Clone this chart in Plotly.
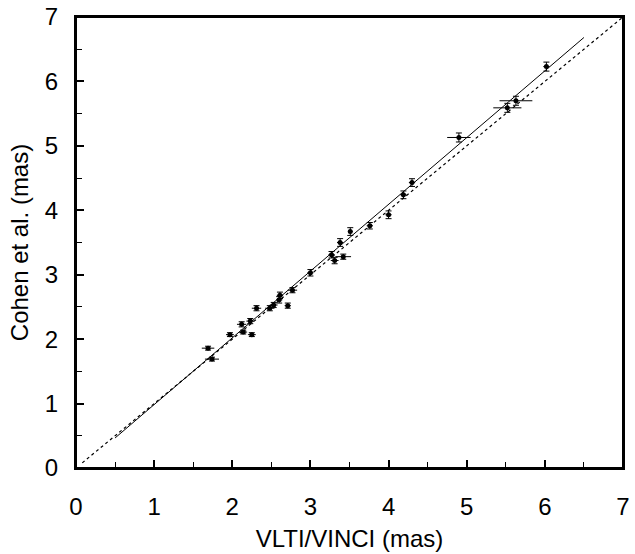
import plotly.graph_objects as go

vinci = [1.69, 1.74, 1.97, 2.14, 2.25, 2.12, 2.23, 2.31, 2.48, 2.53, 2.60, 2.61, 2.71, 2.77,
         3.00, 3.27, 3.31, 3.42, 3.38, 3.51, 3.76, 4.00, 4.19, 4.30, 4.90, 5.52, 5.63, 6.02]
cohen = [1.86, 1.69, 2.07, 2.11, 2.07, 2.23, 2.28, 2.48, 2.48, 2.53, 2.61, 2.68, 2.52, 2.76,
         3.03, 3.31, 3.22, 3.28, 3.50, 3.67, 3.76, 3.93, 4.24, 4.43, 5.13, 5.59, 5.70, 6.23]
vinci_err = [0.08, 0.09, 0.05, 0.05, 0.05, 0.06, 0.05, 0.06, 0.06, 0.05, 0.04, 0.04, 0.04, 0.06,
             0.04, 0.04, 0.05, 0.10, 0.04, 0.03, 0.04, 0.04, 0.04, 0.04, 0.15, 0.18, 0.21, 0.04]
cohen_err = [0.03, 0.03, 0.03, 0.03, 0.03, 0.04, 0.04, 0.04, 0.04, 0.04, 0.05, 0.05, 0.04, 0.04,
             0.05, 0.05, 0.05, 0.04, 0.06, 0.06, 0.05, 0.06, 0.06, 0.06, 0.07, 0.07, 0.07, 0.07]

identity_x = [0.08, 7.0]
fit_x = [0.5, 6.5]
fit_slope, fit_icpt = 1.036, -0.052
fit_y = [fit_slope * v + fit_icpt for v in fit_x]

FONT = "Liberation Sans, Arial, sans-serif"

fig = go.Figure()
fig.add_trace(go.Scatter(x=identity_x, y=identity_x, mode="lines",
                         line=dict(color="black", width=1.2, dash="dot"), showlegend=False))
fig.add_trace(go.Scatter(x=fit_x, y=fit_y, mode="lines",
                         line=dict(color="black", width=1), showlegend=False))
fig.add_trace(go.Scatter(
    x=vinci, y=cohen, mode="markers",
    marker=dict(color="black", size=5),
    error_x=dict(type="data", array=vinci_err, color="black", thickness=1, width=0),
    error_y=dict(type="data", array=cohen_err, color="black", thickness=1, width=3),
    showlegend=False))

axis_common = dict(
    showgrid=False, zeroline=False, showline=True, linecolor="black", linewidth=2,
    mirror=True, ticks="inside", ticklen=8, tickwidth=1.5, tickcolor="black",
    dtick=1, tick0=0, automargin=False, ticklabeloverflow="allow",
    minor=dict(ticks="inside", ticklen=6, tickwidth=1.2, tickcolor="black", dtick=0.5),
    tickfont=dict(family=FONT, size=24, color="black"),
)

fig.update_xaxes(range=[0, 7], title=dict(text="VLTI/VINCI (mas)",
                 font=dict(family=FONT, size=24, color="black"),
                 standoff=11), ticklabelstandoff=16, **axis_common)
fig.update_yaxes(range=[0, 7], title=dict(text="Cohen et al. (mas)",
                 font=dict(family=FONT, size=24, color="black"),
                 standoff=9), ticklabelstandoff=11, **axis_common)

# frame around the plotting area
fig.add_shape(type="rect", xref="paper", yref="paper", x0=0, y0=0, x1=1, y1=1,
              line=dict(color="black", width=2), layer="above")

fig.update_layout(
    width=635, height=554,
    margin=dict(l=76, r=12, t=17, b=86),
    plot_bgcolor="white", paper_bgcolor="white",
)

# remove the default page margin so the figure sits at the window's top-left corner
fig.write_html("out.html", config={"displayModeBar": False},
               post_script="document.body.style.margin='0';document.body.style.overflow='hidden';")
